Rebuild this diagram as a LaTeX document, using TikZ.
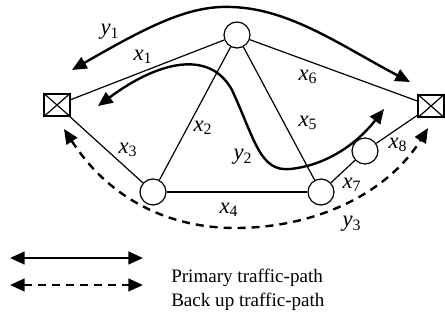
\documentclass[tikz,border=0pt]{standalone}
\usepackage{fontspec}
\setmainfont{Liberation Serif}
\usetikzlibrary{arrows.meta}

\newcommand{\linkvar}[2]{\textit{#1}\textsubscript{#2}}

\begin{document}
\begin{tikzpicture}[x=0.75pt, y=-0.75pt,
    router/.style={circle, draw, line width=0.9pt, minimum size=19.5pt, inner sep=0pt, fill=white},
    term/.style={rectangle, draw, line width=1.4pt, minimum width=19pt, minimum height=16.5pt, inner sep=0pt, fill=white},
    link/.style={line width=0.9pt},
    route/.style={line width=1.8pt, {Triangle[length=11pt,width=9.5pt]}-{Triangle[length=11pt,width=9.5pt]}},
    backup/.style={route, dash pattern=on 6pt off 4.5pt},
    lbl/.style={font=\fontsize{17}{17}\selectfont, inner sep=0pt}]
    \useasboundingbox (0,0) rectangle (445,321);

    % Draw terminals and routers
    \node[term] (src) at (57,105) {};
    \node[term] (dst) at (431,106) {};
    \node[router] (top) at (237,35) {};
    \node[router] (bl) at (153,192) {};
    \node[router] (br) at (321,192) {};
    \node[router] (mid) at (365,151) {};
    \foreach \t in {src, dst}
        \draw[line width=0.9pt] (\t.north west) -- (\t.south east) (\t.north east) -- (\t.south west);

    % Draw links
    \draw[link] (src) -- (top);
    \draw[link] (src) -- (bl);
    \draw[link] (top) -- (bl);
    \draw[link] (top) -- (br);
    \draw[link] (top) -- (dst);
    \draw[link] (bl) -- (br);
    \draw[link] (br) -- (mid);
    \draw[link] (mid) -- (dst);

    % Link labels
    \node[lbl] (x1) at (143,57) {\linkvar{x}{1}};
    \node[lbl] (x2) at (203,128) {\linkvar{x}{2}};
    \node[lbl] (x3) at (128,150) {\linkvar{x}{3}};
    \node[lbl] (x4) at (229,210) {\linkvar{x}{4}};
    \node[lbl] (x5) at (308,123) {\linkvar{x}{5}};
    \node[lbl] (x6) at (308,77) {\linkvar{x}{6}};
    \node[lbl] (x7) at (352,185) {\linkvar{x}{7}};
    \node[lbl] (x8) at (398,145) {\linkvar{x}{8}};

    % Traffic paths
    \coordinate (y1a) at (72,70);
    \coordinate (y1b) at (410,82);
    \coordinate (y2a) at (98,106);
    \coordinate (y2b) at (384,109);
    \coordinate (y3a) at (64,129);
    \coordinate (y3b) at (428,128);
    \draw[route] (y1a) .. controls (150,25) and (190,5) .. (232,7) .. controls (290,9) and (340,45) .. (y1b);
    \draw[route] (y2a) .. controls (160,60) and (210,50) .. (232,90) .. controls (255,140) and (260,172) .. (290,169) .. controls (330,165) and (360,140) .. (y2b);
    \draw[backup] (y3a) .. controls (110,200) and (170,228) .. (235,228) .. controls (320,228) and (390,190) .. (y3b);
    \node[lbl] (y1) at (110,32) {\linkvar{y}{1}};
    \node[lbl] (y2) at (243,157) {\linkvar{y}{2}};
    \node[lbl] (y3) at (352,224) {\linkvar{y}{3}};

    % Legend
    \coordinate (p1) at (10,258);
    \coordinate (p2) at (143,258);
    \coordinate (b1) at (10,285);
    \coordinate (b2) at (143,285);
    \draw[route] (p1) -- (p2);
    \draw[backup] (b1) -- (b2);
    \node[anchor=west, font=\fontsize{14.3}{15}\selectfont, inner sep=0pt] (prim) at (171,278) {Primary traffic-path};
    \node[anchor=west, font=\fontsize{14.3}{15}\selectfont, inner sep=0pt] (back) at (171,302) {Back up traffic-path};
\end{tikzpicture}
\end{document}
